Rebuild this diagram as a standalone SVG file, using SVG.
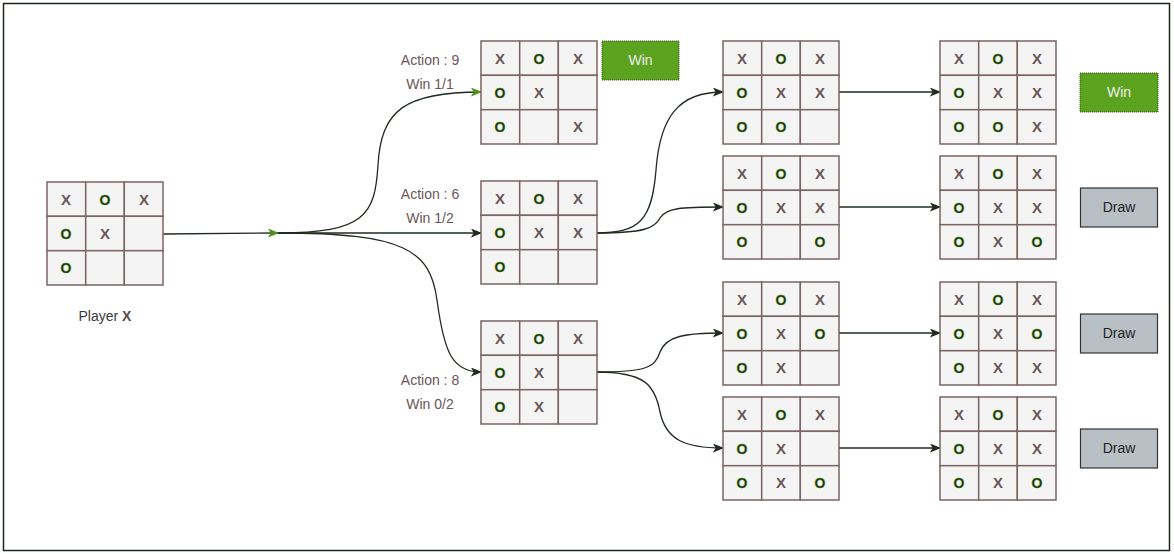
<svg xmlns="http://www.w3.org/2000/svg" width="1174" height="554" viewBox="0 0 1174 554">
<style>
.cell{fill:#f4f4f4;stroke:#7a6464;stroke-width:1.5}
.x{font-family:"Liberation Sans",Arial,sans-serif;font-size:15px;font-weight:bold;fill:#6a5656;text-anchor:middle}
.o{font-family:"Liberation Sans",Arial,sans-serif;font-size:14px;font-weight:bold;fill:#1c300c;stroke:#4f9a1e;stroke-width:0.4;text-anchor:middle}
.lbl{font-family:"Liberation Sans",Arial,sans-serif;font-size:14px;fill:#6a5656;text-anchor:middle}
.edge{fill:none;stroke:#1f2b1f;stroke-width:1.3}
.win{fill:#5ba21f;stroke:#2e5410;stroke-width:1;stroke-dasharray:1 1}
.wint{font-family:"Liberation Sans",Arial,sans-serif;font-size:14px;fill:#eeeeee;text-anchor:middle}
.draw{fill:#b9c0c5;stroke:#333;stroke-width:1.2}
.drawt{font-family:"Liberation Sans",Arial,sans-serif;font-size:14px;fill:#222;text-anchor:middle}
</style>
<defs>
<marker id="ah" viewBox="0 0 10 8" refX="9" refY="4" markerWidth="12" markerHeight="9" markerUnits="userSpaceOnUse" orient="auto">
<path d="M0,0 L10,4 L0,8 L2.5,4 Z" fill="#1f2b1f"/>
</marker>
<marker id="ahg" viewBox="0 0 10 8" refX="9" refY="4" markerWidth="12" markerHeight="9" markerUnits="userSpaceOnUse" orient="auto">
<path d="M0,0 L10,4 L0,8 L2.5,4 Z" fill="#4f8f1e"/>
</marker>
<g id="grid">
<rect class="cell" x="0" y="0" width="38.7" height="34.3"/>
<rect class="cell" x="38.7" y="0" width="38.6" height="34.3"/>
<rect class="cell" x="77.3" y="0" width="38.7" height="34.3"/>
<rect class="cell" x="0" y="34.3" width="38.7" height="34.4"/>
<rect class="cell" x="38.7" y="34.3" width="38.6" height="34.4"/>
<rect class="cell" x="77.3" y="34.3" width="38.7" height="34.4"/>
<rect class="cell" x="0" y="68.7" width="38.7" height="34.3"/>
<rect class="cell" x="38.7" y="68.7" width="38.6" height="34.3"/>
<rect class="cell" x="77.3" y="68.7" width="38.7" height="34.3"/>
</g>
</defs>
<rect x="0" y="0" width="1174" height="554" fill="#ffffff"/>
<rect x="3.5" y="3.5" width="1166" height="547" fill="none" stroke="#1a261a" stroke-width="1.5"/>

<g id="connectors">
<path class="edge" d="M163,234 L278,233" stroke="#4a6a3a" marker-end="url(#ahg)"/>
<path class="edge" d="M278,233 C365,233 375,215 378,165 C381,110 405,92 481,92" stroke="#4a5a3a" marker-end="url(#ahg)"/>
<path class="edge" d="M278,233 L481,233" marker-end="url(#ah)"/>
<path class="edge" d="M278,233 C405,233 430,250 437,300 C444,352 452,372 481,372" marker-end="url(#ah)"/>
<path class="edge" d="M596,233 C640,233 652,220 656,170 C660,115 680,92 723,92" marker-end="url(#ah)"/>
<path class="edge" d="M596,233 C645,233 655,228 660,218 C666,208 680,207 723,207" marker-end="url(#ah)"/>
<path class="edge" d="M596,372 C645,372 655,368 660,352 C666,336 685,333 723,333" marker-end="url(#ah)"/>
<path class="edge" d="M596,372 C645,372 655,385 660,412 C666,440 685,448 723,448" marker-end="url(#ah)"/>
<path class="edge" d="M839,92 L940,92" marker-end="url(#ah)"/>
<path class="edge" d="M839,207 L940,207" marker-end="url(#ah)"/>
<path class="edge" d="M839,333 L940,333" marker-end="url(#ah)"/>
<path class="edge" d="M839,448 L940,448" marker-end="url(#ah)"/>
</g>

<g id="b0" transform="translate(47,182)">
<use href="#grid"/>
<text class="x" x="19" y="23">X</text><text class="o" x="58" y="23">O</text><text class="x" x="97" y="23">X</text>
<text class="o" x="19" y="57">O</text><text class="x" x="58" y="57">X</text>
<text class="o" x="19" y="91">O</text>
</g>
<g id="player-label"><text class="lbl" x="105" y="321" style="fill:#3a3a3a">Player <tspan font-weight="bold" style="fill:#5a4a4a">X</tspan></text></g>

<g id="a9" transform="translate(481,41)">
<use href="#grid"/>
<text class="x" x="19" y="23">X</text><text class="o" x="58" y="23">O</text><text class="x" x="97" y="23">X</text>
<text class="o" x="19" y="57">O</text><text class="x" x="58" y="57">X</text>
<text class="o" x="19" y="91">O</text><text class="x" x="97" y="91">X</text>
</g>
<g id="a9-label"><text class="lbl" x="430" y="65">Action : 9</text><text class="lbl" x="430" y="89">Win 1/1</text></g>
<g id="win1"><rect class="win" x="602" y="41" width="77" height="39"/><text class="wint" x="640.5" y="65">Win</text></g>

<g id="a6" transform="translate(481,181)">
<use href="#grid"/>
<text class="x" x="19" y="23">X</text><text class="o" x="58" y="23">O</text><text class="x" x="97" y="23">X</text>
<text class="o" x="19" y="57">O</text><text class="x" x="58" y="57">X</text><text class="x" x="97" y="57">X</text>
<text class="o" x="19" y="91">O</text>
</g>
<g id="a6-label"><text class="lbl" x="430" y="199">Action : 6</text><text class="lbl" x="430" y="223">Win 1/2</text></g>

<g id="a8" transform="translate(481,321)">
<use href="#grid"/>
<text class="x" x="19" y="23">X</text><text class="o" x="58" y="23">O</text><text class="x" x="97" y="23">X</text>
<text class="o" x="19" y="57">O</text><text class="x" x="58" y="57">X</text>
<text class="o" x="19" y="91">O</text><text class="x" x="58" y="91">X</text>
</g>
<g id="a8-label"><text class="lbl" x="430" y="385">Action : 8</text><text class="lbl" x="430" y="409">Win 0/2</text></g>

<g id="c1" transform="translate(723,41)">
<use href="#grid"/>
<text class="x" x="19" y="23">X</text><text class="o" x="58" y="23">O</text><text class="x" x="97" y="23">X</text>
<text class="o" x="19" y="57">O</text><text class="x" x="58" y="57">X</text><text class="x" x="97" y="57">X</text>
<text class="o" x="19" y="91">O</text><text class="o" x="58" y="91">O</text>
</g>
<g id="c2" transform="translate(723,156)">
<use href="#grid"/>
<text class="x" x="19" y="23">X</text><text class="o" x="58" y="23">O</text><text class="x" x="97" y="23">X</text>
<text class="o" x="19" y="57">O</text><text class="x" x="58" y="57">X</text><text class="x" x="97" y="57">X</text>
<text class="o" x="19" y="91">O</text><text class="o" x="97" y="91">O</text>
</g>
<g id="c3" transform="translate(723,282)">
<use href="#grid"/>
<text class="x" x="19" y="23">X</text><text class="o" x="58" y="23">O</text><text class="x" x="97" y="23">X</text>
<text class="o" x="19" y="57">O</text><text class="x" x="58" y="57">X</text><text class="o" x="97" y="57">O</text>
<text class="o" x="19" y="91">O</text><text class="x" x="58" y="91">X</text>
</g>
<g id="c4" transform="translate(723,397)">
<use href="#grid"/>
<text class="x" x="19" y="23">X</text><text class="o" x="58" y="23">O</text><text class="x" x="97" y="23">X</text>
<text class="o" x="19" y="57">O</text><text class="x" x="58" y="57">X</text>
<text class="o" x="19" y="91">O</text><text class="x" x="58" y="91">X</text><text class="o" x="97" y="91">O</text>
</g>

<g id="d1" transform="translate(940,41)">
<use href="#grid"/>
<text class="x" x="19" y="23">X</text><text class="o" x="58" y="23">O</text><text class="x" x="97" y="23">X</text>
<text class="o" x="19" y="57">O</text><text class="x" x="58" y="57">X</text><text class="x" x="97" y="57">X</text>
<text class="o" x="19" y="91">O</text><text class="o" x="58" y="91">O</text><text class="x" x="97" y="91">X</text>
</g>
<g id="d2" transform="translate(940,156)">
<use href="#grid"/>
<text class="x" x="19" y="23">X</text><text class="o" x="58" y="23">O</text><text class="x" x="97" y="23">X</text>
<text class="o" x="19" y="57">O</text><text class="x" x="58" y="57">X</text><text class="x" x="97" y="57">X</text>
<text class="o" x="19" y="91">O</text><text class="x" x="58" y="91">X</text><text class="o" x="97" y="91">O</text>
</g>
<g id="d3" transform="translate(940,282)">
<use href="#grid"/>
<text class="x" x="19" y="23">X</text><text class="o" x="58" y="23">O</text><text class="x" x="97" y="23">X</text>
<text class="o" x="19" y="57">O</text><text class="x" x="58" y="57">X</text><text class="o" x="97" y="57">O</text>
<text class="o" x="19" y="91">O</text><text class="x" x="58" y="91">X</text><text class="x" x="97" y="91">X</text>
</g>
<g id="d4" transform="translate(940,397)">
<use href="#grid"/>
<text class="x" x="19" y="23">X</text><text class="o" x="58" y="23">O</text><text class="x" x="97" y="23">X</text>
<text class="o" x="19" y="57">O</text><text class="x" x="58" y="57">X</text><text class="x" x="97" y="57">X</text>
<text class="o" x="19" y="91">O</text><text class="x" x="58" y="91">X</text><text class="o" x="97" y="91">O</text>
</g>

<g id="win2"><rect class="win" x="1080" y="73" width="78" height="39"/><text class="wint" x="1119" y="97">Win</text></g>
<g id="draw1"><rect class="draw" x="1080.5" y="188" width="77" height="39"/><text class="drawt" x="1119" y="212">Draw</text></g>
<g id="draw2"><rect class="draw" x="1080.5" y="314" width="77" height="39"/><text class="drawt" x="1119" y="338">Draw</text></g>
<g id="draw3"><rect class="draw" x="1080.5" y="429" width="77" height="39"/><text class="drawt" x="1119" y="453">Draw</text></g>
</svg>
